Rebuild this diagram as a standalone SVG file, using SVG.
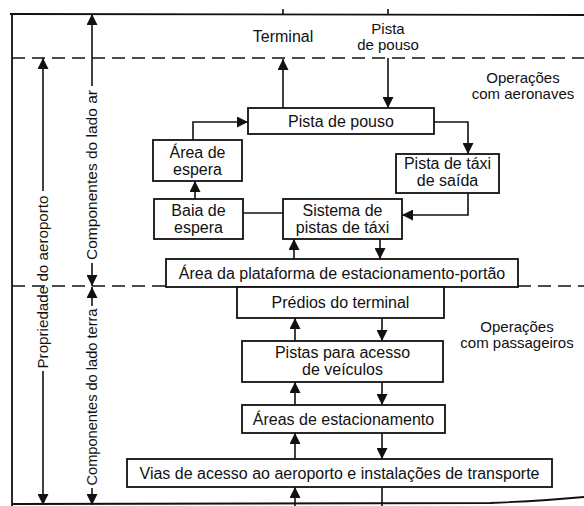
<svg xmlns="http://www.w3.org/2000/svg" width="584" height="506" viewBox="0 0 584 506">
<defs>
<marker id="ah" viewBox="0 0 11 11" markerUnits="userSpaceOnUse" markerWidth="11" markerHeight="11" refX="11" refY="5.5" orient="auto-start-reverse">
<path d="M0,0 L11,5.5 L0,11 z" fill="#111"/>
</marker>
<style>
.box{fill:#fff;stroke:#111;stroke-width:1.8}
.ln{fill:none;stroke:#111;stroke-width:1.6}
.dash{fill:none;stroke:#111;stroke-width:1.6;stroke-dasharray:13 7}
.fr{fill:none;stroke:#111;stroke-width:1.8}
text{font-family:"Liberation Sans",Arial,sans-serif;font-size:16px;fill:#111;text-anchor:middle}
.vt{font-size:15.5px}
.sl{font-size:15px}
</style>
</defs>
<rect width="584" height="506" fill="#fff"/>

<g id="frame">
<path class="fr" d="M10,14 L584,15"/>
<path class="fr" d="M12,14 L12,506"/>
<path class="fr" d="M12,504 L490,503 Q540,501 584,497"/>
<path class="dash" d="M12,58 L584,58"/>
<path class="dash" d="M12,286 L166,286"/>
<path class="dash" d="M518,286 L584,286"/>
</g>

<g id="dimensions">
<path class="ln" d="M92,86 L92,14" marker-end="url(#ah)"/>
<path class="ln" d="M92,263 L92,286" marker-end="url(#ah)"/>
<text class="vt" transform="translate(97,175) rotate(-90)" textLength="170" lengthAdjust="spacingAndGlyphs">Componentes do lado ar</text>
<path class="ln" d="M92,306 L92,287" marker-end="url(#ah)"/>
<path class="ln" d="M92,488 L92,505" marker-end="url(#ah)"/>
<text class="vt" transform="translate(97,397) rotate(-90)" textLength="177" lengthAdjust="spacingAndGlyphs">Componentes do lado terra</text>
<path class="ln" d="M43,191 L43,58" marker-end="url(#ah)"/>
<path class="ln" d="M43,371 L43,505" marker-end="url(#ah)"/>
<text class="vt" transform="translate(48,282) rotate(-90)" textLength="173" lengthAdjust="spacingAndGlyphs">Propriedade do aeroporto</text>
</g>

<g id="labels">
<text x="283" y="42">Terminal</text>
<text class="sl" x="388" y="34">Pista</text>
<text class="sl" x="388" y="50">de pouso</text>
<text class="sl" x="523" y="83">Operações</text>
<text class="sl" x="523" y="99">com aeronaves</text>
<text class="sl" x="517" y="332">Operações</text>
<text class="sl" x="517" y="348">com passageiros</text>
</g>

<g id="connectors">
<path class="ln" d="M283,9 L283,14"/>
<path class="ln" d="M388,9 L388,14"/>
<path class="ln" d="M283,108 L283,59" marker-end="url(#ah)"/>
<path class="ln" d="M388,58 L388,108" marker-end="url(#ah)"/>
<path class="ln" d="M434,122 L468,122 L468,154" marker-end="url(#ah)"/>
<path class="ln" d="M468,193 L468,215 L402,215" marker-end="url(#ah)"/>
<path class="ln" d="M193,140 L193,122 L248,122" marker-end="url(#ah)"/>
<path class="ln" d="M195,199 L195,181" marker-end="url(#ah)"/>
<path class="ln" d="M243,213 L283,213"/>
<path class="ln" d="M294,259 L294,239" marker-end="url(#ah)"/>
<path class="ln" d="M380,239 L380,259" marker-end="url(#ah)"/>
<path class="ln" d="M295,341 L295,318" marker-end="url(#ah)"/>
<path class="ln" d="M382,318 L382,341" marker-end="url(#ah)"/>
<path class="ln" d="M295,405 L295,382" marker-end="url(#ah)"/>
<path class="ln" d="M382,382 L382,405" marker-end="url(#ah)"/>
<path class="ln" d="M295,459 L295,433" marker-end="url(#ah)"/>
<path class="ln" d="M382,433 L382,459" marker-end="url(#ah)"/>
<path class="ln" d="M295,506 L295,487" marker-end="url(#ah)"/>
<path class="ln" d="M382,487 L382,506"/>
</g>

<g id="pista-pouso">
<rect class="box" x="248" y="108" width="186" height="26"/>
<text x="341" y="127">Pista de pouso</text>
</g>
<g id="pista-taxi-saida">
<rect class="box" x="396" y="154" width="103" height="39"/>
<text x="447.5" y="169">Pista de táxi</text>
<text x="447.5" y="186">de saída</text>
</g>
<g id="area-espera">
<rect class="box" x="153" y="140" width="89" height="41"/>
<text x="197.5" y="158">Área de</text>
<text x="197.5" y="175">espera</text>
</g>
<g id="baia-espera">
<rect class="box" x="154" y="199" width="89" height="40"/>
<text x="198.5" y="216">Baia de</text>
<text x="198.5" y="233">espera</text>
</g>
<g id="sistema-pistas-taxi">
<rect class="box" x="283" y="199" width="119" height="40"/>
<text x="342.5" y="216">Sistema de</text>
<text x="342.5" y="233">pistas de táxi</text>
</g>
<g id="plataforma">
<rect class="box" x="166" y="259" width="352" height="28"/>
<text x="342" y="279">Área da plataforma de estacionamento-portão</text>
</g>
<g id="predios-terminal">
<rect class="box" x="237" y="287" width="207" height="31"/>
<text x="340.5" y="308">Prédios do terminal</text>
</g>
<g id="pistas-acesso-veiculos">
<rect class="box" x="242" y="341" width="201" height="41"/>
<text x="342.5" y="358">Pistas para acesso</text>
<text x="342.5" y="375">de veículos</text>
</g>
<g id="areas-estacionamento">
<rect class="box" x="242" y="405" width="203" height="28"/>
<text x="343.5" y="425">Áreas de estacionamento</text>
</g>
<g id="vias-acesso">
<rect class="box" x="127" y="459" width="425" height="28"/>
<text x="339.5" y="479">Vias de acesso ao aeroporto e instalações de transporte</text>
</g>
</svg>
